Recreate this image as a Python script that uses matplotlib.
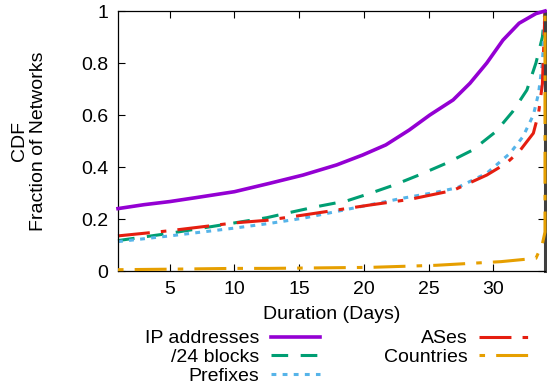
import matplotlib
matplotlib.use("Agg")
import matplotlib.pyplot as plt

plt.rcParams['font.family'] = ['Liberation Sans', 'DejaVu Sans']
plt.rcParams['lines.scale_dashes'] = False

# data
ip_x = [1, 3, 5, 7, 10, 12.7, 15.3, 17.9, 19.9, 21.7, 23.5, 25.1, 26.9, 28.2, 29.5, 30.75, 32.0, 33.3, 34]
ip_y = [0.24, 0.255, 0.267, 0.282, 0.305, 0.337, 0.369, 0.408, 0.446, 0.485, 0.542, 0.60, 0.658, 0.722, 0.80, 0.888, 0.953, 0.99, 1.0]

b24_x = [1, 5, 10, 12.5, 14.0, 16.3, 18.7, 20.5, 22.3, 24.3, 26.4, 28.4, 30.2, 31.5, 32.6, 33.3, 33.8, 34]
b24_y = [0.117, 0.145, 0.185, 0.205, 0.222, 0.247, 0.270, 0.299, 0.33, 0.37, 0.415, 0.465, 0.536, 0.613, 0.696, 0.80, 0.90, 1.0]

pfx_x = [1, 5, 10, 12.7, 15.3, 19.1, 23.0, 25.6, 27.2, 29.5, 31.3, 32.3, 33.1, 33.5, 33.8, 34]
pfx_y = [0.113, 0.135, 0.165, 0.183, 0.203, 0.241, 0.28, 0.303, 0.32, 0.376, 0.453, 0.517, 0.60, 0.683, 0.80, 1.0]

as_x = [1, 5, 10, 12.5, 15.3, 20.5, 23.5, 26.9, 29.5, 31.0, 32.0, 33.1, 33.5, 33.8, 34]
as_y = [0.135, 0.155, 0.185, 0.195, 0.215, 0.254, 0.275, 0.31, 0.369, 0.414, 0.459, 0.53, 0.606, 0.72, 1.0]

cc_x = [1, 5, 10, 12.6, 20.5, 25.6, 30.6, 33.3, 33.8, 34, 34]
cc_y = [0.005, 0.007, 0.01, 0.01, 0.014, 0.022, 0.036, 0.049, 0.105, 0.15, 1.0]

x_ticks = [5, 10, 15, 20, 25, 30]
y_ticks = [0, 0.2, 0.4, 0.6, 0.8, 1]
y_ticklabels = ['0', '0.2', '0.4', '0.6', '0.8', '1']

fig = plt.figure(figsize=(5.47, 3.88), dpi=100)
ax = fig.add_axes([118/547, 1-271/388, (545-118)/547, (271-11)/388])

ax.plot(ip_x, ip_y, color='#9400d3', lw=2.6, label='IP addresses', clip_on=False, zorder=5)
ax.plot(b24_x, b24_y, color='#009e73', lw=2.2, dashes=(12, 9), label='/24 blocks', clip_on=False)
ax.plot(pfx_x, pfx_y, color='#56b4e9', lw=2.2, dashes=(3.5, 4.5), label='Prefixes', clip_on=False)
ax.plot(as_x, as_y, color='#e51e10', lw=2.2, dashes=(23, 8, 4, 8), label='ASes', clip_on=False)
ax.plot(cc_x, cc_y, color='#e69f00', lw=2.2, dashes=(4, 8, 23, 8), label='Countries', clip_on=False, zorder=6)

ax.set_xlim(1, 34)
ax.set_ylim(0, 1)
ax.set_xticks(x_ticks)
ax.set_yticks(y_ticks)
ax.set_yticklabels(y_ticklabels)
ax.tick_params(direction='in', length=5, width=0.8, top=True, right=True,
               labelsize=14, pad=7)
for s in ax.spines.values():
    s.set_linewidth(0.9)
ax.spines['right'].set_linewidth(2.2)
ax.spines['right'].set_color('#404040')

ax.set_xlabel('Duration (Days)', fontsize=14, labelpad=6)
fig.text(29/547, 1-141/388, 'CDF\nFraction of Networks', rotation=90,
         ha='center', va='center', multialignment='center', fontsize=14, linespacing=1.1)

leg = ax.legend(ncol=2, markerfirst=False, frameon=False, fontsize=14,
                handlelength=2.5, handletextpad=0.6, columnspacing=3.3,
                labelspacing=0.05, borderpad=0, borderaxespad=0,
                loc='upper center', bbox_to_anchor=(0.512, -0.226))

fig.savefig('out.png', dpi=100)
